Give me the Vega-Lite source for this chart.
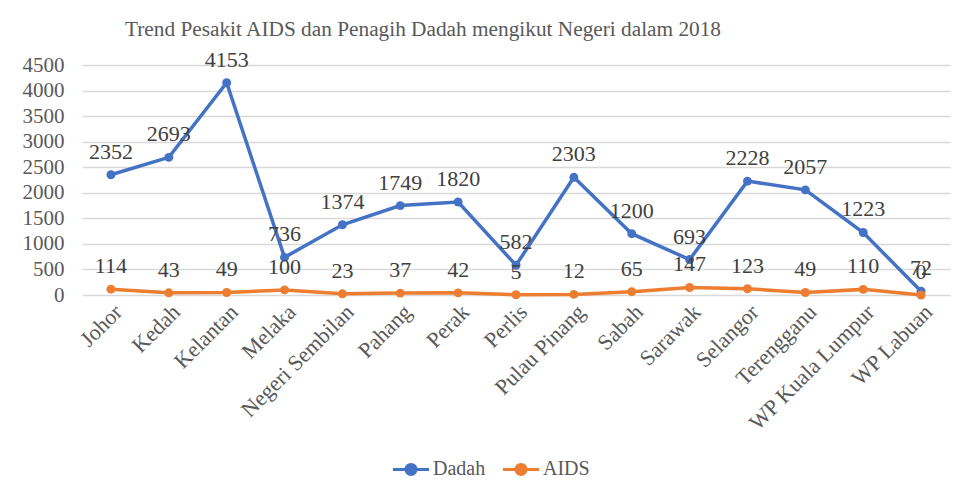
{
  "$schema": "https://vega.github.io/schema/vega-lite/v6.json",
  "width": 868,
  "height": 230,
  "autosize": {"type": "none"},
  "padding": {"left": 82, "top": 65, "right": 7, "bottom": 195},
  "background": "white",
  "title": {
    "text": "Trend Pesakit AIDS dan Penagih Dadah mengikut Negeri dalam 2018",
    "font": "Liberation Serif",
    "fontSize": 21.3,
    "fontWeight": "normal",
    "color": "#595959",
    "anchor": "start",
    "frame": "group",
    "dx": 43,
    "offset": 8
  },
  "data": {
    "values": [
      {"state": "Johor", "series": "Dadah", "value": 2352},
      {"state": "Kedah", "series": "Dadah", "value": 2693},
      {"state": "Kelantan", "series": "Dadah", "value": 4153},
      {"state": "Melaka", "series": "Dadah", "value": 736},
      {"state": "Negeri Sembilan", "series": "Dadah", "value": 1374},
      {"state": "Pahang", "series": "Dadah", "value": 1749},
      {"state": "Perak", "series": "Dadah", "value": 1820},
      {"state": "Perlis", "series": "Dadah", "value": 582},
      {"state": "Pulau Pinang", "series": "Dadah", "value": 2303},
      {"state": "Sabah", "series": "Dadah", "value": 1200},
      {"state": "Sarawak", "series": "Dadah", "value": 693},
      {"state": "Selangor", "series": "Dadah", "value": 2228},
      {"state": "Terengganu", "series": "Dadah", "value": 2057},
      {"state": "WP Kuala Lumpur", "series": "Dadah", "value": 1223},
      {"state": "WP Labuan", "series": "Dadah", "value": 72},
      {"state": "Johor", "series": "AIDS", "value": 114},
      {"state": "Kedah", "series": "AIDS", "value": 43},
      {"state": "Kelantan", "series": "AIDS", "value": 49},
      {"state": "Melaka", "series": "AIDS", "value": 100},
      {"state": "Negeri Sembilan", "series": "AIDS", "value": 23},
      {"state": "Pahang", "series": "AIDS", "value": 37},
      {"state": "Perak", "series": "AIDS", "value": 42},
      {"state": "Perlis", "series": "AIDS", "value": 5},
      {"state": "Pulau Pinang", "series": "AIDS", "value": 12},
      {"state": "Sabah", "series": "AIDS", "value": 65},
      {"state": "Sarawak", "series": "AIDS", "value": 147},
      {"state": "Selangor", "series": "AIDS", "value": 123},
      {"state": "Terengganu", "series": "AIDS", "value": 49},
      {"state": "WP Kuala Lumpur", "series": "AIDS", "value": 110},
      {"state": "WP Labuan", "series": "AIDS", "value": 0}
    ]
  },
  "encoding": {
    "x": {
      "field": "state",
      "type": "nominal",
      "sort": null,
      "title": null,
      "axis": {
        "labelAngle": -45,
        "labelFont": "Liberation Serif",
        "labelFontSize": 22,
        "labelColor": "#595959",
        "labelPadding": 6,
        "ticks": false,
        "domain": false,
        "grid": false
      }
    },
    "y": {
      "field": "value",
      "type": "quantitative",
      "title": null,
      "scale": {"domain": [0, 4500], "nice": false},
      "axis": {
        "values": [0, 500, 1000, 1500, 2000, 2500, 3000, 3500, 4000, 4500],
        "format": "d",
        "labelFont": "Liberation Serif",
        "labelFontSize": 21,
        "labelColor": "#595959",
        "labelPadding": 18,
        "ticks": false,
        "domain": false,
        "gridColor": "#d9d9d9",
        "gridWidth": 1.3
      }
    },
    "color": {
      "field": "series",
      "type": "nominal",
      "sort": ["Dadah", "AIDS"],
      "scale": {"domain": ["Dadah", "AIDS"], "range": ["#4472C4", "#ED7D31"]},
      "legend": {
        "title": null,
        "orient": "none",
        "direction": "horizontal",
        "legendX": 309,
        "legendY": 384,
        "labelFont": "Liberation Serif",
        "labelFontSize": 20,
        "labelColor": "#595959",
        "symbolType": "M-1,0L1,0M0.28,0A0.28,0.28 0 1 1 -0.28,0A0.28,0.28 0 1 1 0.28,0Z",
        "symbolSize": 1300,
        "symbolStrokeWidth": 3,
        "symbolOffset": 0,
        "labelOffset": 2,
        "columnPadding": 10
      }
    }
  },
  "layer": [
    {
      "mark": {"type": "line", "strokeWidth": 3.5, "point": {"filled": true, "size": 80}}
    },
    {
      "mark": {
        "type": "text",
        "dy": -23,
        "baseline": "middle",
        "font": "Liberation Serif",
        "fontSize": 22,
        "color": "#404040"
      },
      "encoding": {
        "text": {"field": "value", "type": "quantitative"},
        "color": {"value": "#404040"}
      }
    }
  ],
  "config": {"view": {"stroke": null}}
}
